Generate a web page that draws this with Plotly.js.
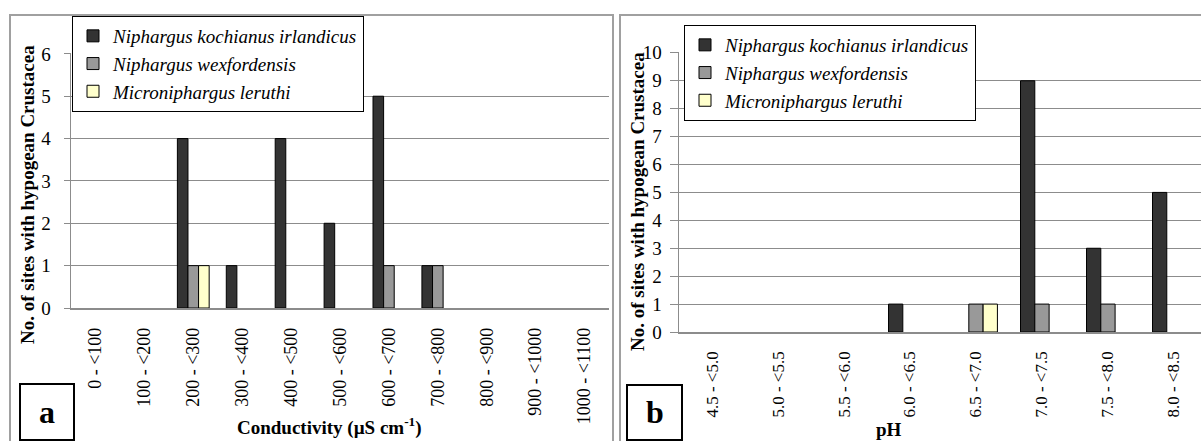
<!DOCTYPE html>
<html>
<head>
<meta charset="utf-8">
<script src="https://cdn.plot.ly/plotly-3.0.1.min.js"></script>
<style>html,body{margin:0;padding:0;background:#fff;}#chart{width:1201px;height:441px;}</style>
</head>
<body>
<div id="chart"></div>
<script>
// ---- Data ----
const condCategories = ["0 - <100","100 - <200","200 - <300","300 - <400","400 - <500","500 - <600","600 - <700","700 - <800","800 - <900","900 - <1000","1000 - <1100"];
const condKochianus = [0,0,4,1,4,2,5,1,0,0,0];
const condWexfordensis = [0,0,1,0,0,0,1,1,0,0,0];
const condLeruthi = [0,0,1,0,0,0,0,0,0,0,0];

const phCategories = ["4.5 - <5.0","5.0 - <5.5","5.5 - <6.0","6.0 - <6.5","6.5 - <7.0","7.0 - <7.5","7.5 - <8.0","8.0 - <8.5"];
const phKochianus = [0,0,0,1,0,9,3,5];
const phWexfordensis = [0,0,0,0,1,1,1,0];
const phLeruthi = [0,0,0,0,1,0,0,0];

const seriesNames = ["Niphargus kochianus irlandicus","Niphargus wexfordensis","Microniphargus leruthi"];
const seriesColors = ["#333333","#999999","#FFFFCC"];

// ---- Helpers ----
const W = 1201, H = 441;
const px = v => v / W;
const py = v => (H - v) / H;
const serif = "'Liberation Serif', 'Times New Roman', serif";

function bar(x, y, i, xa, ya, leg) {
  return {
    type: "bar", x: x,
    // zero counts are drawn as no bar (as in the original figure)
    y: y.map(v => (v === 0 ? null : v)),
    name: seriesNames[i],
    xaxis: xa, yaxis: ya, legend: leg,
    marker: {color: seriesColors[i], line: {color: "#000", width: 1}},
    hoverinfo: "x+y+name"
  };
}

const data = [
  bar(condCategories, condKochianus, 0, "x", "y", "legend"),
  bar(condCategories, condWexfordensis, 1, "x", "y", "legend"),
  bar(condCategories, condLeruthi, 2, "x", "y", "legend"),
  bar(phCategories, phKochianus, 0, "x2", "y2", "legend2"),
  bar(phCategories, phWexfordensis, 1, "x2", "y2", "legend2"),
  bar(phCategories, phLeruthi, 2, "x2", "y2", "legend2")
];

const gridC = "#8c8c8c";
const xCommon = {
  type: "category", showline: true, linecolor: gridC, linewidth: 1.5,
  showgrid: false, ticks: "", tickangle: -90,
  ticklabelstandoff: 11, fixedrange: true
};
const yCommon = {
  showline: true, linecolor: gridC, linewidth: 1.5, showgrid: true,
  gridcolor: gridC, gridwidth: 1, ticks: "outside",
  tickcolor: gridC, tickfont: {family: serif, size: 19, color: "#000"},
  dtick: 1, zeroline: false, fixedrange: true
};

const legendCommon = {
  bgcolor: "#fff", bordercolor: "#000", borderwidth: 1,
  font: {family: serif, size: 19, style: "italic", color: "#000"},
  xanchor: "left", yanchor: "top", tracegroupgap: 0, itemclick: false
};

function ann(x, y, text, size, angle, yanchor) {
  return {xref: "paper", yref: "paper", x: px(x), y: py(y), xanchor: "center", yanchor: yanchor || "middle",
    text: text, textangle: angle || 0, showarrow: false,
    font: {family: serif, size: size, weight: "bold", color: "#000"}};
}

const layout = {
  width: W, height: H,
  margin: {l: 0, r: 0, t: 0, b: 0},
  paper_bgcolor: "#fff", plot_bgcolor: "#fff",
  font: {family: serif, color: "#000"},
  barmode: "group", bargap: 0.35, bargroupgap: 0,
  showlegend: true,
  xaxis: Object.assign({}, xCommon, {domain: [px(71), px(609)], anchor: "y", range: [-0.5, 10.5],
    tickfont: {family: serif, size: 18, color: "#000"}}),
  yaxis: Object.assign({}, yCommon, {domain: [py(308), py(53)], anchor: "x", range: [0, 6.02], ticklen: 6, ticklabelstandoff: 9}),
  xaxis2: Object.assign({}, xCommon, {domain: [px(679), 1], anchor: "y2", range: [-0.5, 7.41],
    tickfont: {family: serif, size: 17, color: "#000"}}),
  yaxis2: Object.assign({}, yCommon, {domain: [py(332), py(52)], anchor: "x2", range: [0, 10.03], ticklen: 8, ticklabelstandoff: 4}),
  legend: Object.assign({}, legendCommon, {x: px(72), y: py(16)}),
  legend2: Object.assign({}, legendCommon, {x: px(684), y: py(25)}),
  shapes: [
    {type: "rect", xref: "paper", yref: "paper", x0: px(10), x1: px(613), y0: py(15), y1: py(446), line: {color: "#a0a0a0", width: 2}, layer: "below"},
    {type: "rect", xref: "paper", yref: "paper", x0: px(620), x1: px(1206), y0: py(15), y1: py(446), line: {color: "#a0a0a0", width: 2}, layer: "below"},
    {type: "rect", xref: "paper", yref: "paper", x0: px(20), x1: px(74), y0: py(384), y1: py(440), line: {color: "#000", width: 2}, fillcolor: "#fff"},
    {type: "rect", xref: "paper", yref: "paper", x0: px(627), x1: px(682), y0: py(385), y1: py(440), line: {color: "#000", width: 2}, fillcolor: "#fff"}
  ],
  annotations: [
    ann(27, 195, "No. of sites with hypogean Crustacea", 19, -90),
    ann(637, 202, "No. of sites with hypogean Crustacea", 19, -90),
    ann(329, 441, "Conductivity (µS cm<sup>-1</sup>)", 19, 0, "bottom"),
    ann(889, 442, "pH", 19, 0, "bottom"),
    ann(47, 412, "a", 32),
    ann(655, 412, "b", 32)
  ]
};

Plotly.newPlot("chart", data, layout, {displayModeBar: false, staticPlot: true});
</script>
</body>
</html>
